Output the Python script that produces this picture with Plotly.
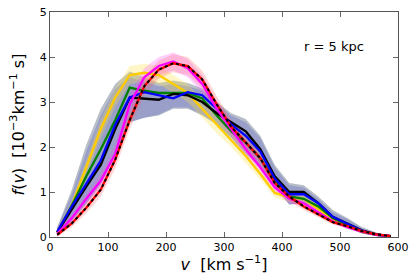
import plotly.graph_objects as go

v = [12.5 + 25 * i for i in range(24)]

f_black = [0.1, 0.62, 1.12, 1.6, 2.4, 3.1, 3.07, 3.05, 3.18, 3.15, 3.0, 2.75, 2.55, 2.35, 1.95, 1.35, 1.0, 1.0, 0.75, 0.45, 0.3, 0.15, 0.06, 0.02]
f_blue = [0.12, 0.68, 1.18, 1.7, 2.5, 3.1, 3.22, 3.15, 3.08, 3.22, 3.15, 2.85, 2.5, 2.25, 1.9, 1.3, 0.95, 0.95, 0.75, 0.45, 0.3, 0.14, 0.05, 0.02]
f_green = [0.1, 0.7, 1.35, 1.95, 2.6, 3.32, 3.25, 3.2, 3.2, 3.2, 3.08, 2.7, 2.35, 2.1, 1.75, 1.25, 0.9, 0.85, 0.68, 0.42, 0.27, 0.12, 0.05, 0.02]
f_yellow = [0.1, 0.7, 1.55, 2.4, 3.1, 3.6, 3.65, 3.6, 3.4, 3.2, 2.85, 2.5, 2.15, 1.8, 1.4, 0.98, 0.88, 0.85, 0.62, 0.38, 0.24, 0.12, 0.05, 0.02]
f_magenta = [0.07, 0.42, 0.85, 1.25, 1.85, 2.95, 3.55, 3.8, 3.9, 3.75, 3.4, 2.85, 2.4, 1.95, 1.55, 1.1, 0.85, 0.75, 0.55, 0.35, 0.22, 0.12, 0.05, 0.02]
f_red = [0.05, 0.3, 0.65, 1.05, 1.72, 2.6, 3.35, 3.72, 3.86, 3.8, 3.5, 2.95, 2.45, 2.1, 1.75, 1.2, 0.9, 0.68, 0.5, 0.33, 0.24, 0.13, 0.06, 0.02]

# spread bands (upper / lower envelopes)
slate_up = [0.22, 1.05, 2.05, 2.85, 3.4, 3.68, 3.55, 3.42, 3.48, 3.42, 3.3, 3.0, 2.75, 2.62, 2.25, 1.6, 1.2, 1.15, 0.9, 0.6, 0.42, 0.22, 0.1, 0.04]
slate_lo = [0.02, 0.35, 0.75, 1.2, 1.85, 2.55, 2.65, 2.7, 2.85, 2.85, 2.7, 2.5, 2.2, 1.85, 1.55, 1.1, 0.72, 0.75, 0.6, 0.35, 0.22, 0.08, 0.02, 0.0]
blue_up = [0.2, 0.95, 1.9, 2.7, 3.3, 3.55, 3.45, 3.35, 3.4, 3.35, 3.25, 2.95, 2.7, 2.55, 2.2, 1.55, 1.15, 1.1, 0.85, 0.55, 0.4, 0.2, 0.09, 0.03]
blue_lo = [0.02, 0.35, 0.72, 1.15, 1.8, 2.55, 2.65, 2.72, 2.88, 2.88, 2.72, 2.5, 2.2, 1.85, 1.55, 1.1, 0.72, 0.75, 0.6, 0.35, 0.22, 0.08, 0.02, 0.0]
err_yellow = [0.05, 0.1, 0.15, 0.2, 0.2, 0.2, 0.2, 0.2, 0.2, 0.2, 0.2, 0.2, 0.15, 0.15, 0.12, 0.1, 0.1, 0.1, 0.08, 0.06, 0.05, 0.03, 0.02, 0.01]
err_magenta = [0.05, 0.08, 0.12, 0.15, 0.2, 0.2, 0.2, 0.2, 0.2, 0.2, 0.2, 0.18, 0.15, 0.15, 0.12, 0.1, 0.1, 0.08, 0.06, 0.05, 0.04, 0.03, 0.02, 0.01]
err_red = [0.05, 0.08, 0.12, 0.15, 0.2, 0.2, 0.2, 0.2, 0.2, 0.2, 0.2, 0.18, 0.15, 0.15, 0.12, 0.1, 0.1, 0.08, 0.06, 0.05, 0.04, 0.03, 0.02, 0.01]

x_ticks = [0, 100, 200, 300, 400, 500, 600]
y_ticks = [0, 1, 2, 3, 4, 5]

bands = [
    (slate_up, slate_lo, "rgba(95,110,130,0.45)"),
    (blue_up, blue_lo, "rgba(80,80,210,0.28)"),
    ([a + b for a, b in zip(f_yellow, err_yellow)], [max(a - b, 0) for a, b in zip(f_yellow, err_yellow)], "rgba(255,225,70,0.30)"),
    ([a + b for a, b in zip(f_magenta, err_magenta)], [max(a - b, 0) for a, b in zip(f_magenta, err_magenta)], "rgba(255,70,255,0.25)"),
    ([a + b for a, b in zip(f_red, err_red)], [max(a - b, 0) for a, b in zip(f_red, err_red)], "rgba(255,90,90,0.25)"),
]

fig = go.Figure()
for up, lo, fc in bands:
    fig.add_trace(go.Scatter(x=v + v[::-1], y=up + lo[::-1], fill="toself",
                             fillcolor=fc, line=dict(width=0), mode="lines",
                             hoverinfo="skip", showlegend=False))

line_order = [(f_yellow, "#ffcc00"), (f_green, "#008000"), (f_black, "black"),
              (f_blue, "#0000ff"), (f_magenta, "#ff00ff"), (f_red, "#ff0000")]
for f, c in line_order:
    fig.add_trace(go.Scatter(x=v, y=f, mode="lines", line=dict(color=c, width=2.3),
                             showlegend=False))
fig.add_trace(go.Scatter(x=v, y=f_red, mode="lines",
                         line=dict(color="black", width=2.0, dash="3px,3px"),
                         showlegend=False))

fig.add_annotation(x=490, y=4.23, text="r = 5 kpc", showarrow=False,
                   font=dict(size=13, color="black"))

axis_common = dict(ticks="inside", ticklen=5, tickcolor="#666", mirror="ticks",
                   showline=True, linecolor="#555", linewidth=1, showgrid=False,
                   zeroline=False, tickfont=dict(size=11, color="black"))
fig.update_xaxes(range=[0, 600], tickvals=x_ticks,
                 title=dict(text="<i>v</i>  [km s<sup>−1</sup>]", font=dict(size=16), standoff=3),
                 **axis_common)
fig.update_yaxes(range=[0, 5], tickvals=y_ticks,
                 title=dict(text="<i>f</i>(<i>v</i>)  [10<sup>−3</sup>km<sup>−1</sup> s]", font=dict(size=16), standoff=11),
                 **axis_common)
fig.update_layout(width=415, height=274, margin=dict(l=50, r=13, t=6, b=35),
                  plot_bgcolor="white", paper_bgcolor="white",
                  font=dict(family="DejaVu Sans", color="black"))
fig.write_html("out.html", config={"displayModeBar": False},
               post_script="document.body.style.margin='0';document.body.style.overflow='hidden';")
